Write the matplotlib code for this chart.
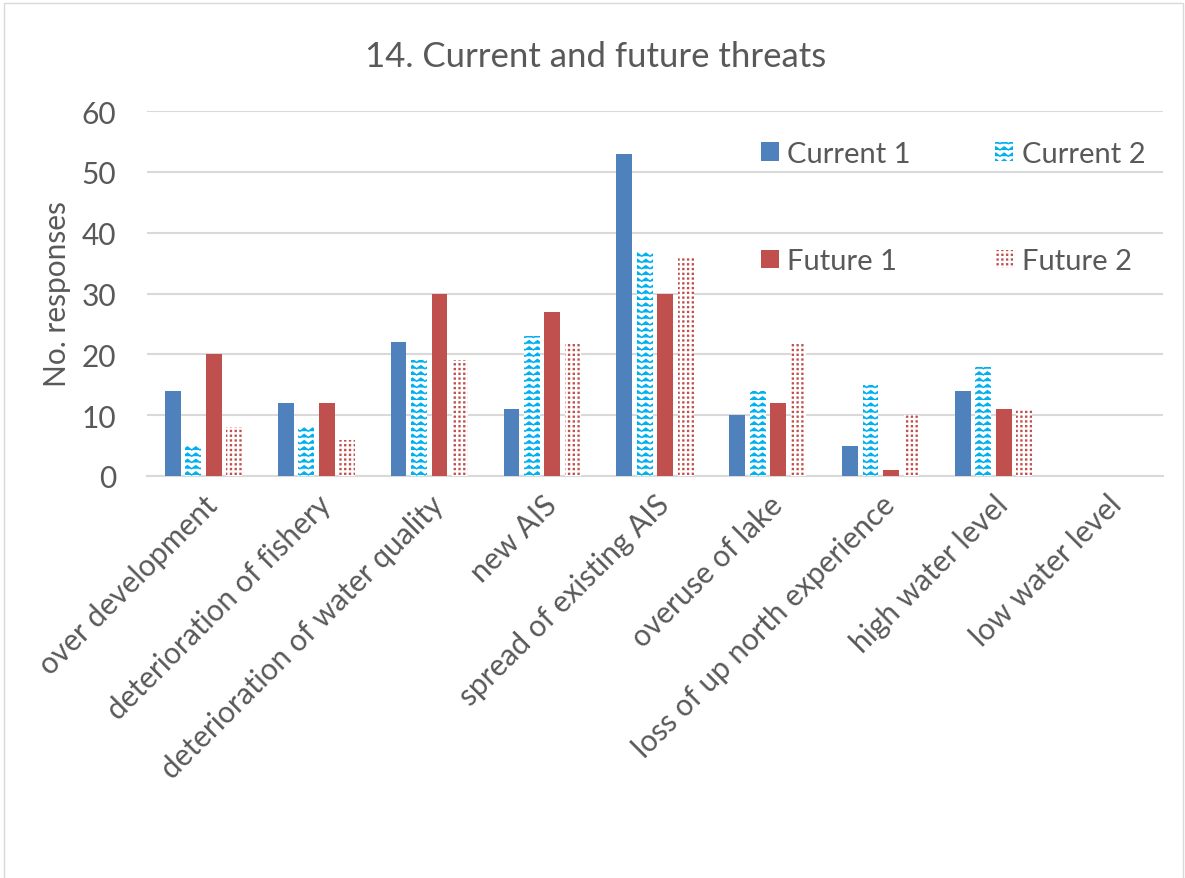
import warnings

import matplotlib

matplotlib.use("Agg")
import matplotlib.hatch as mhatch
import matplotlib.pyplot as plt
import numpy as np
from matplotlib.patches import Rectangle
from matplotlib.path import Path

warnings.filterwarnings("ignore")

# DATA
categories = [
    "over development",
    "deterioration of fishery",
    "deterioration of water quality",
    "new AIS",
    "spread of existing AIS",
    "overuse of lake",
    "loss of up north experience",
    "high water level",
    "low water level",
]
current_1 = [14, 12, 22, 11, 53, 10, 5, 14, 0]
current_2 = [5, 8, 19, 23, 37, 14, 15, 18, 0]
future_1 = [20, 12, 30, 27, 30, 12, 1, 11, 0]
future_2 = [8, 6, 19, 22, 36, 22, 10, 11, 0]
series_names = ["Current 1", "Current 2", "Future 1", "Future 2"]
y_ticks = [0, 10, 20, 30, 40, 50, 60]


class WaveHatch(mhatch.HatchPatternBase):
    """Zigzag hatch for the letter 'w' (like Excel's wave pattern)."""

    def __init__(self, hatch, density):
        self.num_rows = hatch.count("w") * 8
        self.num_peaks = 12
        n = 2 * self.num_peaks + 1
        self.num_vertices = self.num_rows * n if self.num_rows else 0

    def set_vertices_and_codes(self, vertices, codes):
        n = 2 * self.num_peaks + 1
        xs = np.linspace(0, 1, n)
        amp = 0.5 / self.num_rows
        zig = np.where(np.arange(n) % 2 == 0, 0.0, amp)
        k = 0
        for i in range(self.num_rows):
            vertices[k:k + n, 0] = xs
            vertices[k:k + n, 1] = i / self.num_rows + zig
            codes[k] = Path.MOVETO
            codes[k + 1:k + n] = Path.LINETO
            k += n


class DotGridHatch(mhatch.HatchPatternBase):
    """Small squares on a regular grid for the letter 'd'."""

    def __init__(self, hatch, density):
        self.num_rows = hatch.count("d") * 7
        self.num_vertices = self.num_rows ** 2 * 5 if self.num_rows else 0

    def set_vertices_and_codes(self, vertices, codes):
        step = 1.0 / self.num_rows
        s = step * 0.1
        square = np.array([[-s, -s], [s, -s], [s, s], [-s, s], [-s, -s]])
        k = 0
        for i in range(self.num_rows):
            for j in range(self.num_rows):
                vertices[k:k + 5] = square + [(j + 0.5) * step, (i + 0.5) * step]
                codes[k] = Path.MOVETO
                codes[k + 1:k + 4] = Path.LINETO
                codes[k + 4] = Path.CLOSEPOLY
                k += 5


mhatch._hatch_types.extend([WaveHatch, DotGridHatch])

TEXT = "#595959"
GRID = "#D9D9D9"
plt.rcParams["font.family"] = ["Lato", "DejaVu Sans"]
plt.rcParams["hatch.linewidth"] = 1.0

fig = plt.figure(figsize=(11.85, 8.79), dpi=100)
ax = fig.add_axes([147 / 1185, 1 - 477 / 879, (1163 - 147) / 1185, (477 - 112) / 879])

x = np.arange(len(categories))
width = 0.14
offsets = [-0.272, -0.091, 0.091, 0.272]

b1 = ax.bar(x + offsets[0], current_1, width, color="#4F81BD", label=series_names[0], zorder=3)
b2 = ax.bar(x + offsets[1], current_2, width, color="white", edgecolor="#00B0F0",
            linewidth=0, hatch="ww", label=series_names[1], zorder=3)
b3 = ax.bar(x + offsets[2], future_1, width, color="#C0504D", label=series_names[2], zorder=3)
b4 = ax.bar(x + offsets[3], future_2, width, color="white", edgecolor="#C0504D",
            linewidth=0, hatch="ddd", label=series_names[3], zorder=3)

# AXES
ax.set_xlim(-0.5, len(categories) - 0.5)
ax.set_ylim(0, 60)
ax.set_yticks(y_ticks)
ax.yaxis.grid(True, color=GRID, linewidth=1.5, zorder=0)
ax.set_axisbelow(True)
for side in ["top", "right", "left"]:
    ax.spines[side].set_visible(False)
ax.spines["bottom"].set_color(GRID)
ax.spines["bottom"].set_linewidth(1.5)
ax.tick_params(axis="both", length=0, labelsize=21.5, colors=TEXT)
ax.tick_params(axis="y", pad=22)
ax.set_xticks(x)
ax.set_xticklabels(categories, rotation=45, ha="right", rotation_mode="anchor")
ax.tick_params(axis="x", pad=10)
ax.set_ylabel("No. responses", fontsize=21.5, color=TEXT, labelpad=8)

fig.text(0.503, 0.935, "14. Current and future threats", ha="center", va="center",
         fontsize=25, color=TEXT)

# LEGEND (row-wise order: Current 1, Current 2 / Future 1, Future 2)
ax.legend([b1, b3, b2, b4], [series_names[0], series_names[2], series_names[1], series_names[3]],
          loc="upper left", bbox_to_anchor=(761 / 1185, 1 - 142 / 879),
          bbox_transform=fig.transFigure, ncol=2, frameon=False, fontsize=21,
          labelcolor=TEXT, borderpad=0, borderaxespad=0, handlelength=0.6,
          handleheight=0.6, handletextpad=0.3, columnspacing=2.9, labelspacing=2.78)

# CHART BORDER
fig.patches.append(Rectangle((4 / 1185, -0.01), 1179 / 1185, 1.0 - 4 / 879 + 0.01,
                             transform=fig.transFigure, fill=False,
                             edgecolor=GRID, linewidth=1))

plt.savefig("out.png", dpi=100)
